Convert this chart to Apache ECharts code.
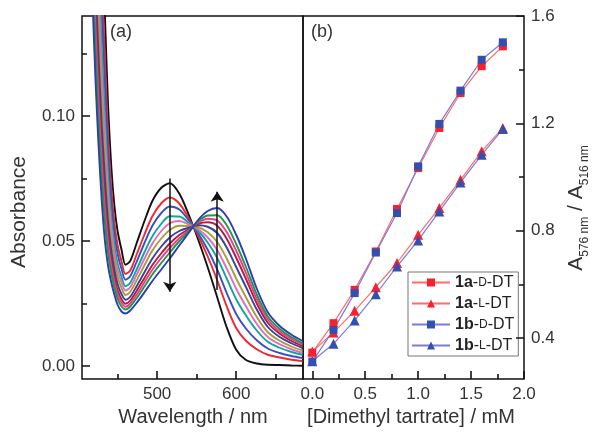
<!DOCTYPE html>
<html>
<head>
<meta charset="utf-8">
<title>Absorbance spectra / ratio plot</title>
<script src="https://cdn.jsdelivr.net/npm/echarts@6.0.0/dist/echarts.min.js"></script>
<style>
  html, body { margin: 0; padding: 0; background: #fff; }
  #main { width: 593px; height: 433px; }
</style>
</head>
<body>
<div id="main"></div>
<script>
// ---- panel (a): absorbance spectra ----
var wl = [414, 418, 422, 426, 430, 434, 438, 442, 446, 450, 455, 460, 466, 474, 484, 494, 505, 516, 528, 540, 552, 564, 576, 588, 600, 612, 626, 640, 655, 670, 684];

var absBlack  = [0.360, 0.310, 0.260, 0.215, 0.175, 0.140, 0.104, 0.080, 0.064, 0.054, 0.0465, 0.0405, 0.0420, 0.0490, 0.0580, 0.0660, 0.0712, 0.0731, 0.0690, 0.0605, 0.0505, 0.0395, 0.0275, 0.0155, 0.0065, 0.0025, 0.0010, 0.0005, 0.0004, 0.0002, 0.0001];
var absRed    = [0.3296, 0.2796, 0.2324, 0.1909, 0.1543, 0.1229, 0.0918, 0.0712, 0.0573, 0.0484, 0.0418, 0.0368, 0.0382, 0.0445, 0.0526, 0.0599, 0.0650, 0.0674, 0.0650, 0.0591, 0.0520, 0.0438, 0.0343, 0.0239, 0.0152, 0.0102, 0.0067, 0.0045, 0.0034, 0.0025, 0.0020];
var absBlue   = [0.3104, 0.2604, 0.2150, 0.1756, 0.1412, 0.1121, 0.0842, 0.0656, 0.0530, 0.0449, 0.0388, 0.0345, 0.0359, 0.0416, 0.0492, 0.0561, 0.0611, 0.0638, 0.0626, 0.0583, 0.0530, 0.0465, 0.0386, 0.0292, 0.0208, 0.0151, 0.0103, 0.0070, 0.0052, 0.0040, 0.0032];
var absTeal   = [0.2896, 0.2396, 0.1962, 0.1591, 0.1270, 0.1004, 0.0758, 0.0595, 0.0484, 0.0410, 0.0356, 0.0319, 0.0333, 0.0385, 0.0455, 0.0519, 0.0568, 0.0599, 0.0598, 0.0573, 0.0540, 0.0494, 0.0432, 0.0350, 0.0267, 0.0204, 0.0142, 0.0097, 0.0073, 0.0056, 0.0045];
var absOrchid = [0.2752, 0.2252, 0.1831, 0.1477, 0.1172, 0.0923, 0.0701, 0.0554, 0.0452, 0.0384, 0.0334, 0.0302, 0.0315, 0.0364, 0.0429, 0.0490, 0.0539, 0.0571, 0.0580, 0.0567, 0.0547, 0.0514, 0.0464, 0.0390, 0.0309, 0.0241, 0.0169, 0.0116, 0.0087, 0.0067, 0.0053];
var absOlive  = [0.2608, 0.2108, 0.1701, 0.1363, 0.1074, 0.0842, 0.0643, 0.0512, 0.0420, 0.0357, 0.0312, 0.0284, 0.0297, 0.0342, 0.0403, 0.0462, 0.0509, 0.0544, 0.0561, 0.0560, 0.0555, 0.0535, 0.0496, 0.0430, 0.0350, 0.0277, 0.0196, 0.0135, 0.0101, 0.0078, 0.0062];
var absNavy   = [0.2448, 0.1948, 0.1556, 0.1236, 0.0965, 0.0752, 0.0579, 0.0465, 0.0384, 0.0328, 0.0287, 0.0265, 0.0277, 0.0319, 0.0375, 0.0430, 0.0477, 0.0514, 0.0540, 0.0553, 0.0563, 0.0557, 0.0532, 0.0474, 0.0396, 0.0318, 0.0226, 0.0156, 0.0116, 0.0091, 0.0072];
var absWine   = [0.2320, 0.1820, 0.1440, 0.1134, 0.0878, 0.0680, 0.0528, 0.0428, 0.0356, 0.0304, 0.0267, 0.0249, 0.0262, 0.0300, 0.0352, 0.0404, 0.0450, 0.0490, 0.0524, 0.0547, 0.0569, 0.0575, 0.0561, 0.0509, 0.0433, 0.0351, 0.0250, 0.0173, 0.0129, 0.0100, 0.0080];
var absPink   = [0.2224, 0.1724, 0.1353, 0.1058, 0.0813, 0.0626, 0.0490, 0.0400, 0.0335, 0.0286, 0.0253, 0.0237, 0.0250, 0.0285, 0.0335, 0.0385, 0.0431, 0.0472, 0.0511, 0.0543, 0.0574, 0.0589, 0.0582, 0.0536, 0.0461, 0.0375, 0.0268, 0.0186, 0.0138, 0.0108, 0.0086];
var absGreen  = [0.2128, 0.1628, 0.1266, 0.0982, 0.0747, 0.0572, 0.0451, 0.0372, 0.0313, 0.0269, 0.0238, 0.0226, 0.0238, 0.0271, 0.0318, 0.0366, 0.0411, 0.0454, 0.0499, 0.0539, 0.0579, 0.0602, 0.0603, 0.0563, 0.0488, 0.0399, 0.0286, 0.0198, 0.0148, 0.0115, 0.0092];
var absRoyal  = [0.200, 0.150, 0.115, 0.088, 0.066, 0.050, 0.040, 0.0335, 0.0285, 0.0245, 0.0218, 0.0210, 0.0222, 0.0252, 0.0295, 0.0340, 0.0385, 0.0430, 0.0482, 0.0533, 0.0585, 0.0620, 0.0632, 0.0598, 0.0525, 0.0432, 0.0310, 0.0215, 0.0160, 0.0125, 0.0100];

// arrows (start -> tip)
var arrowDown = [[516, 0.075], [516, 0.0297]];
var arrowUp   = [[576, 0.0304], [576, 0.0697]];

// ---- panel (b): A576/A516 vs [dimethyl tartrate] ----
var conc      = [0, 0.2, 0.4, 0.6, 0.8, 1.0, 1.2, 1.4, 1.6, 1.8];
var ratio1aD  = [0.346, 0.456, 0.580, 0.723, 0.881, 1.034, 1.183, 1.313, 1.413, 1.487];
var ratio1aL  = [0.350, 0.421, 0.502, 0.590, 0.680, 0.785, 0.885, 0.990, 1.096, 1.183];
var ratio1bD  = [0.313, 0.431, 0.568, 0.719, 0.866, 1.040, 1.198, 1.322, 1.437, 1.502];
var ratio1bL  = [0.314, 0.379, 0.466, 0.564, 0.667, 0.764, 0.872, 0.980, 1.083, 1.179];

// tick positions
var wlMajor = [500, 600], wlMinor = [450, 550, 650];
var absMajor = [0, 0.05, 0.10], absMinor = [0.025, 0.075, 0.125];
var concMajor = [0, 0.5, 1.0, 1.5, 2.0], concMinor = [0.25, 0.75, 1.25, 1.75];
var ratioMajor = [0.4, 0.8, 1.2, 1.6], ratioMinor = [0.6, 1.0, 1.4];

// axis ranges
var wlMin = 405, wlMax = 684.5, absMin = -0.0052, absMax = 0.14;
var concMin = -0.088, concMax = 2.0, ratioMin = 0.248, ratioMax = 1.6;

var FONT = '"Liberation Sans", Arial, sans-serif';
var TXT = '#333';

// plot boxes in px
var boxA = { left: 82, top: 16, width: 221, height: 363 };
var boxB = { left: 303, top: 16, width: 221, height: 363 };

// tick length in px converted to data units of each axis
function unitsPerPx(min, max, px) { return (max - min) / px; }
var uWl = unitsPerPx(wlMin, wlMax, boxA.width), uAbs = unitsPerPx(absMin, absMax, boxA.height);
var uConc = unitsPerPx(concMin, concMax, boxB.width), uRatio = unitsPerPx(ratioMin, ratioMax, boxB.height);
var MAJ = 8, MIN = 5;

function axis(grid, min, max, labels, fmt, pos) {
  return {
    type: 'value', gridIndex: grid, min: min, max: max, position: pos,
    axisLine: { show: false, onZero: false },
    splitLine: { show: false },
    axisTick: { show: false },
    axisLabel: { show: true, customValues: labels, fontSize: 17, color: TXT,
                 fontFamily: FONT, margin: 7, formatter: fmt }
  };
}

// inward ticks as short 'lines' segments in data space
function tickLines(xi, segs) {
  return {
    type: 'lines', coordinateSystem: 'cartesian2d', xAxisIndex: xi, yAxisIndex: xi,
    data: segs.map(function (s) { return { coords: s }; }),
    symbol: ['none', 'none'], silent: true, z: 15,
    lineStyle: { color: '#111', width: 1.6, opacity: 1, curveness: 0 }
  };
}
var ticksA = []
  .concat(wlMajor.map(function (v) { return [[v, absMin], [v, absMin + MAJ * uAbs]]; }))
  .concat(wlMinor.map(function (v) { return [[v, absMin], [v, absMin + MIN * uAbs]]; }))
  .concat(absMajor.map(function (v) { return [[wlMin, v], [wlMin + MAJ * uWl, v]]; }))
  .concat(absMinor.map(function (v) { return [[wlMin, v], [wlMin + MIN * uWl, v]]; }));
var ticksB = []
  .concat(concMajor.map(function (v) { return [[v, ratioMin], [v, ratioMin + MAJ * uRatio]]; }))
  .concat(concMinor.map(function (v) { return [[v, ratioMin], [v, ratioMin + MIN * uRatio]]; }))
  .concat(ratioMajor.map(function (v) { return [[concMax, v], [concMax - MAJ * uConc, v]]; }))
  .concat(ratioMinor.map(function (v) { return [[concMax, v], [concMax - MIN * uConc, v]]; }));

var myChart = echarts.init(document.getElementById('main'));

var specColors = ['#111111', '#f0282d', '#3a4fc0', '#12a3a0', '#e26cc4', '#a3a037',
                  '#3b3f9f', '#b0203a', '#f03c8c', '#1a9a4a', '#2f3ea8'];
var spectra = [absBlack, absRed, absBlue, absTeal, absOrchid, absOlive,
               absNavy, absWine, absPink, absGreen, absRoyal];

var series = [];
spectra.forEach(function (arr, i) {
  series.push({
    type: 'line', xAxisIndex: 0, yAxisIndex: 0, silent: true,
    data: wl.map(function (w, k) { return [w, arr[k]]; }),
    symbol: 'none', smooth: 0.3,
    lineStyle: { color: specColors[i], width: 1.9 }
  });
});

series.push({
  type: 'lines', coordinateSystem: 'cartesian2d', xAxisIndex: 0, yAxisIndex: 0,
  data: [{ coords: arrowDown }, { coords: arrowUp }],
  symbol: ['none', 'arrow'], symbolSize: [0, 10],
  lineStyle: { color: '#111', width: 1.5, opacity: 1, curveness: 0 }, z: 10
});

function ratioSeries(name, vals, sym, size, lineCol, markCol) {
  return {
    name: name, type: 'line', xAxisIndex: 1, yAxisIndex: 1,
    data: conc.map(function (c, k) { return [c, vals[k]]; }),
    symbol: sym, symbolSize: size,
    lineStyle: { color: lineCol, width: 1.2 },
    itemStyle: { color: markCol }
  };
}
series.push(ratioSeries('1a-D-DT', ratio1aD, 'rect', 8, '#ff6a6a', '#f5222d'));
series.push(ratioSeries('1a-L-DT', ratio1aL, 'triangle', 10, '#ff6a6a', '#f5222d'));
series.push(ratioSeries('1b-D-DT', ratio1bD, 'rect', 8, '#7c7cd8', '#3350b0'));
series.push(ratioSeries('1b-L-DT', ratio1bL, 'triangle', 10, '#7c7cd8', '#3350b0'));

series.push(tickLines(0, ticksA));
series.push(tickLines(1, ticksB));

function grid(b) {
  return { left: b.left, top: b.top, width: b.width, height: b.height, show: true,
           borderColor: '#111', borderWidth: 1.5, backgroundColor: 'transparent' };
}

var option = {
  animation: false,
  backgroundColor: '#fff',
  textStyle: { fontFamily: FONT },
  grid: [grid(boxA), grid(boxB)],
  xAxis: [
    axis(0, wlMin, wlMax, wlMajor, function (v) { return v.toFixed(0); }, 'bottom'),
    axis(1, concMin, concMax, concMajor, function (v) { return v.toFixed(1); }, 'bottom')
  ],
  yAxis: [
    axis(0, absMin, absMax, absMajor, function (v) { return v.toFixed(2); }, 'left'),
    axis(1, ratioMin, ratioMax, ratioMajor, function (v) { return v.toFixed(1); }, 'right')
  ],
  legend: {
    data: ['1a-D-DT', '1a-L-DT', '1b-D-DT', '1b-L-DT'],
    orient: 'vertical', left: 408, top: 272,
    itemWidth: 38, itemHeight: 10, itemGap: 4,
    padding: [2, 4, 2, 3],
    borderColor: '#777', borderWidth: 1, backgroundColor: '#fff',
    textStyle: {
      fontSize: 16, color: '#222', lineHeight: 17, fontFamily: FONT,
      rich: {
        b: { fontWeight: 'bold', fontSize: 16, color: '#222', fontFamily: FONT },
        sc: { fontSize: 12, color: '#222', fontFamily: FONT }
      }
    },
    formatter: function (name) {
      var p = name.split('-');
      return '{b|' + p[0] + '}-{sc|' + p[1] + '}-' + p[2];
    }
  },
  graphic: [
    { type: 'text', x: 110, y: 32, style: { text: '(a)', font: '18px ' + FONT, fill: TXT, verticalAlign: 'middle' } },
    { type: 'text', x: 311, y: 32, style: { text: '(b)', font: '18px ' + FONT, fill: TXT, verticalAlign: 'middle' } },
    { type: 'text', x: 19, y: 212, rotation: Math.PI / 2,
      style: { text: 'Absorbance', font: '21px ' + FONT, fill: TXT, align: 'center', verticalAlign: 'middle' } },
    { type: 'text', x: 193, y: 417,
      style: { text: 'Wavelength / nm', font: '20px ' + FONT, fill: TXT, align: 'center', verticalAlign: 'middle' } },
    { type: 'text', x: 411, y: 417,
      style: { text: '[Dimethyl tartrate] / mM', font: '20px ' + FONT, fill: TXT, align: 'center', verticalAlign: 'middle' } },
    { type: 'text', x: 578, y: 208, rotation: Math.PI / 2,
      style: {
        text: '{a|A}{s|576 nm}{a| / A}{s|516 nm}',
        align: 'center', verticalAlign: 'middle', fill: TXT,
        rich: {
          a: { fontSize: 21, fontFamily: FONT, fill: TXT, verticalAlign: 'bottom', padding: [0, 0, 4, 0] },
          s: { fontSize: 12, fontFamily: FONT, fill: TXT, verticalAlign: 'bottom' }
        }
      } }
  ],
  series: series
};

myChart.setOption(option);
</script>
</body>
</html>
